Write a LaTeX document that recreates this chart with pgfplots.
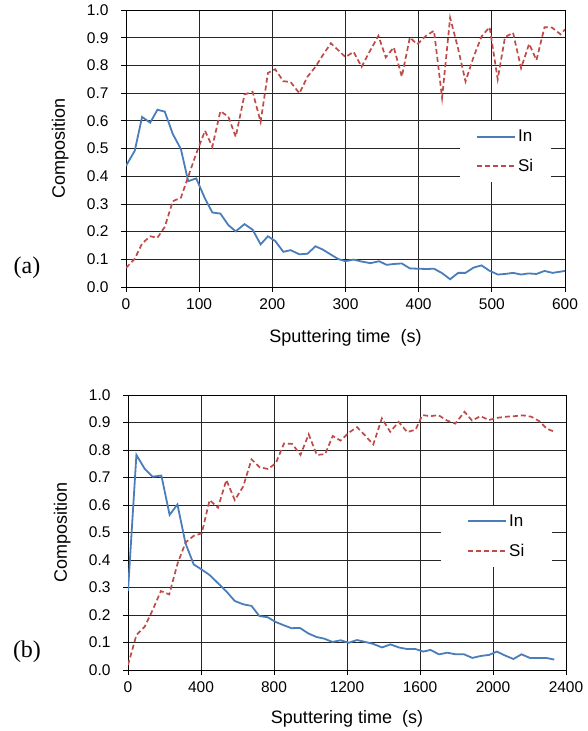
\documentclass[border=0pt]{standalone}
\usepackage{fontspec}
\setmainfont{Liberation Sans}
\newfontfamily\timesf{Liberation Serif}
\usepackage{pgfplots}
\usepackage{pgfplotstable}
\pgfplotsset{compat=1.18}
\definecolor{inblue}{HTML}{4A7EBB}
\definecolor{sired}{HTML}{BE4B48}

\pgfplotstableread{
t v
0 0.437
12 0.492
22 0.614
33 0.593
43 0.640
53 0.633
64 0.552
75 0.498
85 0.382
96 0.392
108 0.319
118 0.269
129 0.265
140 0.223
150 0.201
162 0.227
173 0.207
184 0.154
194 0.183
204 0.166
215 0.127
225 0.133
237 0.118
248 0.120
259 0.147
269 0.135
280 0.117
290 0.101
300 0.093
311 0.099
322 0.092
334 0.086
346 0.093
356 0.080
366 0.083
377 0.085
388 0.067
399 0.066
411 0.065
421 0.066
432 0.050
443 0.028
454 0.051
464 0.051
475 0.070
486 0.078
496 0.060
508 0.045
518 0.047
529 0.051
540 0.045
550 0.049
561 0.047
572 0.058
583 0.051
600 0.058
}\InA

\pgfplotstableread{
t v
0 0.069
12 0.102
22 0.157
33 0.183
43 0.178
53 0.217
64 0.310
75 0.322
85 0.398
96 0.482
108 0.564
118 0.506
129 0.635
140 0.614
150 0.542
162 0.695
173 0.705
184 0.596
194 0.773
204 0.786
215 0.743
225 0.740
237 0.699
248 0.759
259 0.795
269 0.837
280 0.880
290 0.855
300 0.830
311 0.849
322 0.795
333 0.850
345 0.907
355 0.829
366 0.865
377 0.759
388 0.901
398 0.876
410 0.907
421 0.925
432 0.683
443 0.972
454 0.860
464 0.742
475 0.830
486 0.905
497 0.938
508 0.750
518 0.902
529 0.918
540 0.790
551 0.878
561 0.819
572 0.938
582 0.937
594 0.912
600 0.930
}\SiA

\pgfplotstableread{
t v
0 0.287
46 0.782
92 0.731
135 0.703
183 0.707
228 0.564
271 0.602
315 0.461
360 0.384
402 0.366
448 0.345
494 0.315
540 0.285
585 0.251
631 0.239
677 0.233
720 0.196
765 0.192
808 0.175
856 0.162
896 0.152
942 0.153
988 0.133
1033 0.120
1075 0.114
1121 0.102
1165 0.108
1209 0.099
1255 0.109
1300 0.102
1343 0.095
1392 0.082
1438 0.093
1484 0.082
1530 0.076
1576 0.076
1618 0.067
1658 0.073
1704 0.057
1750 0.063
1795 0.057
1841 0.057
1887 0.044
1933 0.051
1979 0.055
2021 0.067
2065 0.053
2112 0.040
2156 0.057
2202 0.044
2244 0.044
2290 0.044
2336 0.038
}\InB

\pgfplotstableread{
t v
0 0.018
46 0.127
92 0.158
137 0.221
180 0.287
226 0.275
272 0.388
316 0.464
360 0.488
404 0.497
447 0.618
493 0.590
539 0.691
585 0.618
631 0.667
677 0.766
722 0.737
767 0.731
810 0.752
855 0.824
900 0.822
945 0.782
990 0.857
1035 0.782
1080 0.785
1122 0.851
1165 0.834
1210 0.863
1255 0.883
1300 0.852
1344 0.820
1391 0.915
1437 0.866
1483 0.902
1530 0.865
1576 0.874
1613 0.927
1659 0.923
1700 0.927
1748 0.907
1793 0.896
1844 0.939
1885 0.907
1931 0.923
1978 0.909
2024 0.917
2071 0.921
2117 0.923
2164 0.926
2210 0.921
2253 0.905
2294 0.878
2340 0.865
}\SiB

\pgfplotsset{
  comp/.style={
    scale only axis,
    ymin=0, ymax=1,
    ytick={0,0.1,0.2,0.3,0.4,0.5,0.6,0.7,0.8,0.9,1.0},
    grid=major,
    major grid style={black!85, line width=0.7pt},
    axis line style={black, line width=0.8pt},
    tick align=outside,
    xtick pos=lower, ytick pos=left,
    major tick length=5pt,
    tick style={black, line width=0.7pt},
    /pgf/number format/assume math mode=true,
    ticklabel style={font=\fontsize{15.5}{17}\selectfont},
    yticklabel style={/pgf/number format/.cd, fixed, fixed zerofill, precision=1, /tikz/.cd, xshift=-9pt},
    xticklabel style={/pgf/number format/.cd, 1000 sep={}, /tikz/.cd, yshift=-3pt},
    scaled ticks=false,
    label style={font=\fontsize{18}{20}\selectfont},
    ylabel={Composition},
    xlabel={Sputtering time\ \ (s)},
    ylabel style={at={(axis description cs:-0.15,0.5)}, anchor=center},
    xlabel style={at={(axis description cs:0.5,-0.182)}, anchor=center},
    legend cell align=left,
    legend image code/.code={\draw[##1] (0pt,0pt) -- (38pt,0pt);},
    legend style={draw=none, fill=white, font=\fontsize{17}{19}\selectfont,
      row sep=12pt, inner xsep=16pt, inner ysep=7pt},
    inline/.style={color=inblue, line width=1.8pt},
    siline/.style={color=sired, line width=1.7pt, dash pattern=on 5pt off 3pt},
  }
}

\begin{document}
\begin{tikzpicture}
\useasboundingbox (0,0) rectangle (588pt,731pt);
\begin{axis}[comp,
  at={(126pt,444pt)}, anchor=south west,
  width=439pt, height=277pt,
  xmin=0, xmax=600, xtick={0,100,200,300,400,500,600},
  legend style={at={(0.761,0.378)}, anchor=south west}]
\addplot[inline] table[x=t,y=v] {\InA};
\addlegendentry{In}
\addplot[siline] table[x=t,y=v] {\SiA};
\addlegendentry{Si}
\end{axis}
\node[font=\timesf\fontsize{24}{26}\selectfont] at (27pt,463pt) {(a)};

\begin{axis}[comp,
  at={(128pt,61pt)}, anchor=south west,
  width=438pt, height=275pt,
  xmin=0, xmax=2400, xtick={0,400,800,1200,1600,2000,2400},
  xlabel style={at={(axis description cs:0.5,-0.178)}},
  legend style={at={(0.715,0.375)}, anchor=south west, inner xsep=26pt}]
\addplot[inline] table[x=t,y=v] {\InB};
\addlegendentry{In}
\addplot[siline] table[x=t,y=v] {\SiB};
\addlegendentry{Si}
\end{axis}
\node[font=\timesf\fontsize{24}{26}\selectfont] at (27pt,79pt) {(b)};
\end{tikzpicture}
\end{document}
